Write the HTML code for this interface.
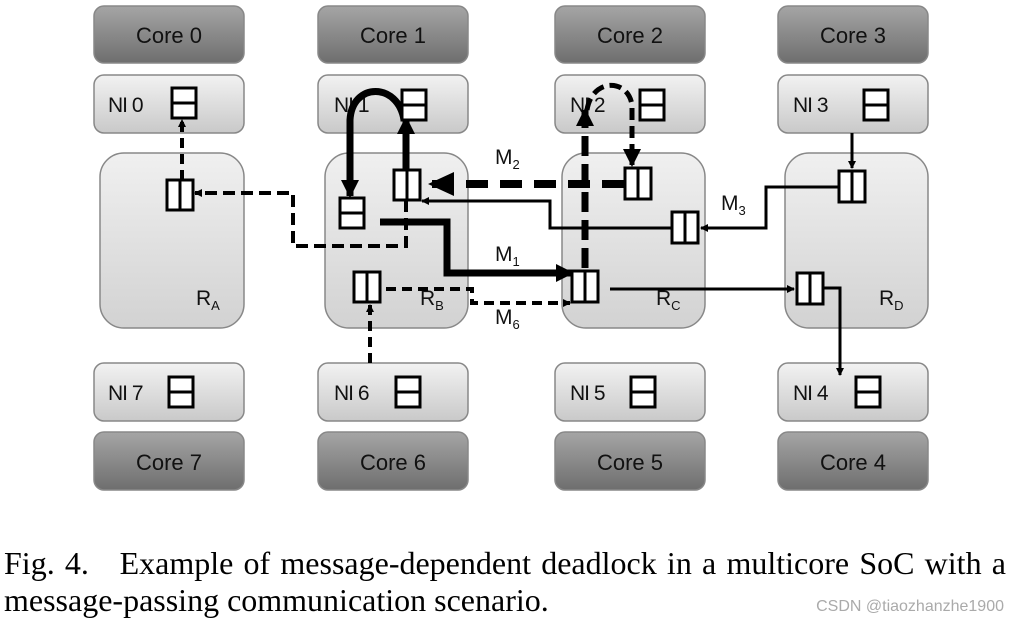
<!DOCTYPE html>
<html><head><style>
body{margin:0;background:#fff;width:1014px;height:627px;overflow:hidden;font-family:"Liberation Sans",sans-serif}
.cap{position:absolute;left:4px;top:545px;width:1002px;font-family:"Liberation Serif",serif;font-size:32px;line-height:37px;color:#000}
.l1{display:block;text-align:justify;text-align-last:justify;white-space:nowrap}
.wm{position:absolute;right:10px;top:598px;font-size:16px;color:#aaa}
</style></head><body>
<svg width="1014" height="540" style="position:absolute;left:0;top:0" font-family="Liberation Sans, sans-serif">
<defs>
<linearGradient id="gc" x1="0" y1="0" x2="0" y2="1"><stop offset="0" stop-color="#a5a5a5"/><stop offset="1" stop-color="#6e6e6e"/></linearGradient>
<linearGradient id="gn" x1="0" y1="0" x2="0" y2="1"><stop offset="0" stop-color="#f2f2f2"/><stop offset="1" stop-color="#c9c9c9"/></linearGradient>
<linearGradient id="gr" x1="0" y1="0" x2="0" y2="1"><stop offset="0" stop-color="#f0f0f0"/><stop offset="1" stop-color="#d2d2d2"/></linearGradient>
<marker id="a" markerWidth="8" markerHeight="8" refX="7" refY="4" orient="auto" markerUnits="userSpaceOnUse"><path d="M0,0L8,4L0,8z"/></marker>
<marker id="A" markerWidth="18" markerHeight="18" refX="16" refY="9" orient="auto" markerUnits="userSpaceOnUse"><path d="M0,0L18,9L0,18z"/></marker>
<marker id="B" markerWidth="26" markerHeight="24" refX="24" refY="12" orient="auto" markerUnits="userSpaceOnUse"><path d="M0,0L26,12L0,24z"/></marker>
</defs>
<g stroke="#888" stroke-width="1.5">
<rect x="94" y="6" width="150" height="57" rx="10" fill="url(#gc)"/>
<rect x="318" y="6" width="150" height="57" rx="10" fill="url(#gc)"/>
<rect x="555" y="6" width="150" height="57" rx="10" fill="url(#gc)"/>
<rect x="778" y="6" width="150" height="57" rx="10" fill="url(#gc)"/>
<rect x="94" y="432" width="150" height="58" rx="10" fill="url(#gc)"/>
<rect x="318" y="432" width="150" height="58" rx="10" fill="url(#gc)"/>
<rect x="555" y="432" width="150" height="58" rx="10" fill="url(#gc)"/>
<rect x="778" y="432" width="150" height="58" rx="10" fill="url(#gc)"/>
<rect x="94" y="75" width="150" height="58" rx="10" fill="url(#gn)"/>
<rect x="318" y="75" width="150" height="58" rx="10" fill="url(#gn)"/>
<rect x="555" y="75" width="150" height="58" rx="10" fill="url(#gn)"/>
<rect x="778" y="75" width="150" height="58" rx="10" fill="url(#gn)"/>
<rect x="94" y="363" width="150" height="58" rx="10" fill="url(#gn)"/>
<rect x="318" y="363" width="150" height="58" rx="10" fill="url(#gn)"/>
<rect x="555" y="363" width="150" height="58" rx="10" fill="url(#gn)"/>
<rect x="778" y="363" width="150" height="58" rx="10" fill="url(#gn)"/>
<rect x="100" y="153" width="144" height="175" rx="24" fill="url(#gr)"/>
<rect x="325" y="153" width="143" height="175" rx="24" fill="url(#gr)"/>
<rect x="562" y="153" width="143" height="175" rx="24" fill="url(#gr)"/>
<rect x="785" y="153" width="143" height="175" rx="24" fill="url(#gr)"/>
</g>
<g font-size="22" fill="#111" text-anchor="middle">
<text x="169" y="43">Core 0</text><text x="393" y="43">Core 1</text><text x="630" y="43">Core 2</text><text x="853" y="43">Core 3</text>
<text x="169" y="470">Core 7</text><text x="393" y="470">Core 6</text><text x="630" y="470">Core 5</text><text x="853" y="470">Core 4</text>
</g>
<g font-size="21" fill="#111">
<text x="108" y="112" letter-spacing="-1">NI 0</text><text x="334" y="112" letter-spacing="-1">NI 1</text><text x="570" y="112" letter-spacing="-1">NI 2</text><text x="793" y="112" letter-spacing="-1">NI 3</text>
<text x="108" y="400" letter-spacing="-1">NI 7</text><text x="334" y="400" letter-spacing="-1">NI 6</text><text x="570" y="400" letter-spacing="-1">NI 5</text><text x="793" y="400" letter-spacing="-1">NI 4</text>
<text x="196" y="305">R<tspan font-size="13" dy="5">A</tspan></text>
<text x="420" y="305">R<tspan font-size="13" dy="5">B</tspan></text>
<text x="656" y="305">R<tspan font-size="13" dy="5">C</tspan></text>
<text x="879" y="305">R<tspan font-size="13" dy="5">D</tspan></text>
<text x="495" y="164">M<tspan font-size="13" dy="5">2</tspan></text>
<text x="721" y="210">M<tspan font-size="13" dy="5">3</tspan></text>
<text x="495" y="261">M<tspan font-size="13" dy="5">1</tspan></text>
<text x="495" y="324">M<tspan font-size="13" dy="5">6</tspan></text>
</g>
<g fill="none" stroke="#000">
<path d="M852,133V168" stroke-width="3" marker-end="url(#a)"/>
<path d="M838,187H766V228H701" stroke-width="3" marker-end="url(#a)"/>
<path d="M671,228H550V201H422" stroke-width="3" marker-end="url(#a)"/>
<path d="M610,289H794" stroke-width="3" marker-end="url(#a)"/>
<path d="M823,288H840V375" stroke-width="3" marker-end="url(#a)"/>
<path d="M380,222H447V273H572" stroke-width="7" marker-end="url(#A)"/>
<path d="M386,289H472V303H570" stroke-width="4" stroke-dasharray="10,6" marker-end="url(#a)"/>
<path d="M624,184H430" stroke-width="8" stroke-dasharray="22,12" marker-end="url(#B)"/>
<path d="M585,268V110" stroke-width="7" stroke-dasharray="20,8" marker-end="url(#A)"/>
<path d="M587,110C592,78 628,78 632,105V165" stroke-width="5" stroke-dasharray="12,6" marker-end="url(#A)"/>
<path d="M406,170V118" stroke-width="7" marker-end="url(#A)"/>
<path d="M404,120C398,82 352,82 350,120V196" stroke-width="7" marker-end="url(#A)"/>
<path d="M406,200V246H293V193H195" stroke-width="4" stroke-dasharray="12,6" marker-end="url(#a)"/>
<path d="M182,180V120" stroke-width="4" stroke-dasharray="10,6" marker-end="url(#a)"/>
<path d="M370,363V305" stroke-width="4" stroke-dasharray="10,6" marker-end="url(#a)"/>
</g>
<g fill="#fff" stroke="#000" stroke-width="3">
<rect x="172" y="88" width="24" height="30"/><path d="M172,103H196"/>
<rect x="402" y="90" width="24" height="30"/><path d="M402,105H426"/>
<rect x="640" y="90" width="24" height="30"/><path d="M640,105H664"/>
<rect x="864" y="90" width="24" height="30"/><path d="M864,105H888"/>
<rect x="169" y="377" width="24" height="30"/><path d="M169,392H193"/>
<rect x="396" y="377" width="24" height="30"/><path d="M396,392H420"/>
<rect x="631" y="377" width="24" height="30"/><path d="M631,392H655"/>
<rect x="856" y="377" width="24" height="30"/><path d="M856,392H880"/>
<rect x="340" y="198" width="24" height="30"/><path d="M340,213H364"/>
<rect x="167" y="180" width="26" height="30"/><path d="M180,180V210"/>
<rect x="394" y="170" width="26" height="30"/><path d="M407,170V200"/>
<rect x="354" y="272" width="26" height="30"/><path d="M367,272V302"/>
<rect x="625" y="168" width="26" height="31"/><path d="M638,168V199"/>
<rect x="572" y="271" width="26" height="31"/><path d="M585,271V302"/>
<rect x="672" y="212" width="26" height="31"/><path d="M685,212V243"/>
<rect x="839" y="171" width="26" height="31"/><path d="M852,171V202"/>
<rect x="797" y="273" width="26" height="31"/><path d="M810,273V304"/>
</g>
</svg>
<div class="cap"><span class="l1">Fig. 4.&nbsp;&nbsp;&nbsp;Example of message-dependent deadlock in a multicore SoC with a</span>message-passing communication scenario.</div>
<div class="wm">CSDN @tiaozhanzhe1900</div>
</body></html>
